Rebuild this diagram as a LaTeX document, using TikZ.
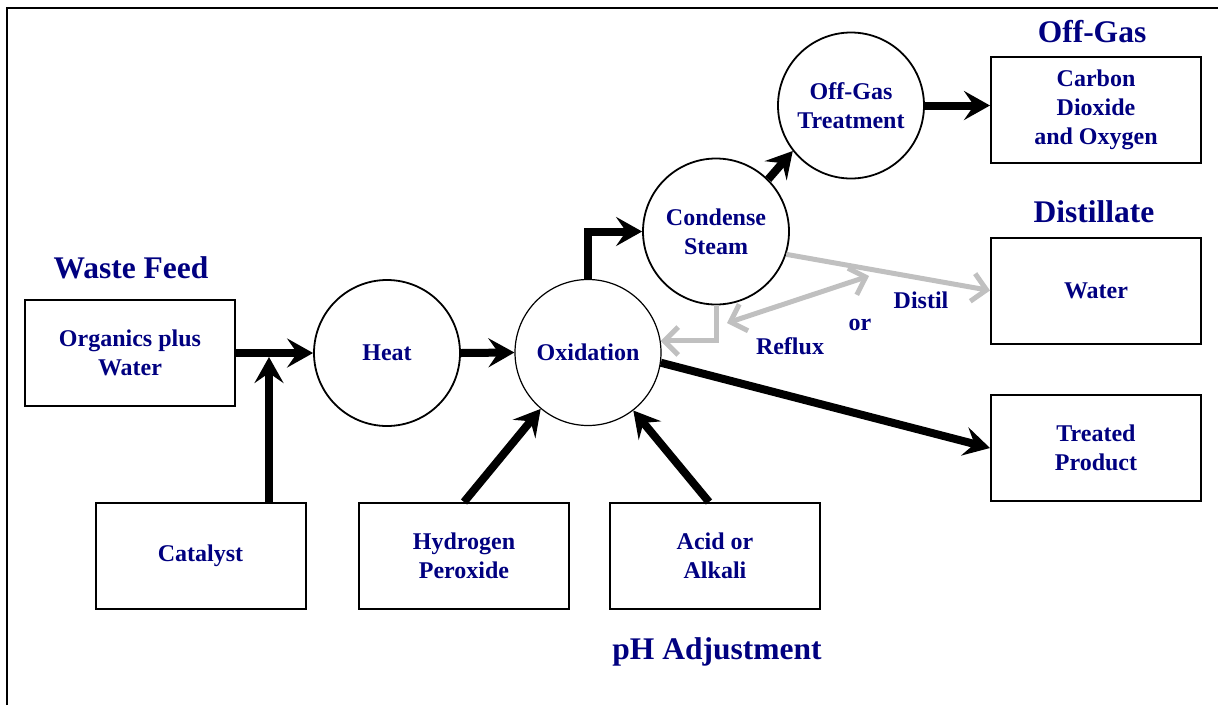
\documentclass[tikz,border=0pt]{standalone}
\usepackage{fontspec}
\setmainfont{Liberation Serif}
\usetikzlibrary{arrows.meta,shadows}
\definecolor{navy}{RGB}{0,0,128}
\definecolor{lgray}{RGB}{192,192,192}
\begin{document}
\begin{tikzpicture}[x=1pt,y=-1pt,
  lbl/.style={text=navy,font=\fontsize{24}{29}\selectfont\bfseries,align=center,inner sep=0pt},
  title/.style={text=navy,font=\fontsize{31.5}{36}\selectfont\bfseries,inner sep=0pt},
  box/.style={lbl,draw=black,line width=2pt,fill=white,minimum width=210pt,minimum height=106pt,
    drop shadow={shadow xshift=1.3pt,shadow yshift=-1.3pt,fill=black!45,opacity=1}},
  proc/.style={lbl,circle,draw=black,line width=1.8pt,fill=white,minimum size=146pt},
  blk/.style={line width=8pt,draw=black,-{Stealth[length=26pt,width=29pt,inset=10pt]}},
  gry/.style={line width=5pt,draw=lgray,-{Straight Barb[length=14pt,width=28pt]}},
  gry2/.style={line width=5pt,draw=lgray,{Straight Barb[length=14pt,width=28pt]}-{Straight Barb[length=14pt,width=28pt]}}
]
\useasboundingbox (0,0) rectangle (1218,705);
\draw[line width=2pt] (7,705) -- (7,7.5) -- (1218,7.5);

% boxes
\node[box] (org) at (130,353) {Organics plus\\Water};
\node[box] (cat) at (200.5,556) {Catalyst};
\node[box] (hyd) at (464,556) {Hydrogen\\Peroxide};
\node[box] (acid) at (715,556) {Acid or\\Alkali};
\node[box] (co2) at (1096,109.5) {Carbon\\Dioxide\\and Oxygen};
\node[box] (water) at (1096,290.5) {Water};
\node[box] (treat) at (1096,448) {Treated\\Product};

% circles
\node[proc] (heat) at (387,353) {Heat};
\node[proc,line width=1.2pt] (oxi) at (588,352.5) {Oxidation};
\node[proc] (cond) at (716,231.5) {Condense\\Steam};
\node[proc] (offgas) at (851,105.5) {Off-Gas\\Treatment};

% titles
\node[title] (tw) at (131,268) {Waste Feed};
\node[title] (to) at (1092,32) {Off-Gas};
\node[title] (td) at (1094,212) {Distillate};
\node[title] (tp) at (717,652) {pH Adjustment};

% small labels
\node[lbl] (ldist) at (921,300) {Distil};
\node[lbl] (lor) at (860,325) {or};
\node[lbl] (lref) at (790,346) {Reflux};

% black arrows
\coordinate (join) at (269,357);
\draw[blk] (org.east) -- (heat.west);
\draw[blk] (cat.north -| join) -- (join);
\draw[blk] (heat.east) -- (oxi.west);
\draw[blk] (hyd.north) -- (oxi.230);
\draw[blk] ([xshift=-6pt]acid.north) -- (oxi.308);
\draw[blk] (oxi.north) |- (cond.west);
\draw[blk] (cond.45) -- (offgas.218);
\draw[blk] (offgas.east) -- (offgas.east -| co2.west);
\draw[blk] (oxi.352) -- (treat.west);

% gray arrows
\coordinate (rfa) at (727,323);
\coordinate (rfb) at (869,276);
\draw[gry] (cond.342) -- (water.west);
\draw[gry,line join=miter] (cond.south) |- (oxi.9);
\draw[gry2] (rfa) -- (rfb);
\end{tikzpicture}
\end{document}
